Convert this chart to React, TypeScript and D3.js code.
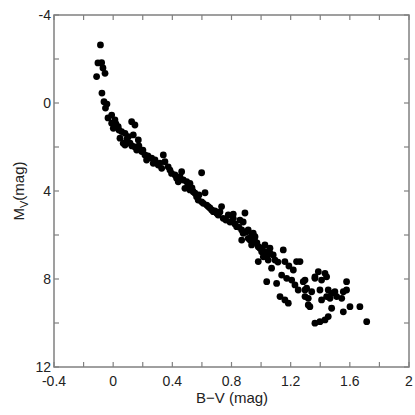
import * as d3 from 'd3';

// B-V colour index (mag) and absolute magnitude M_V (mag)
const bv = [
  -0.086, -0.103, -0.078, -0.069, -0.055, -0.112, -0.076, -0.062, -0.042, -0.052,
  -0.01, -0.035, 0.012, -0.01, 0.034, 0.001, 0.057, 0.08, 0.125, 0.147,
  0.102, 0.046, 0.068, 0.08, 0.114, 0.17, 0.136, 0.159, 0.147, 0.193,
  0.215, 0.226, 0.26, 0.271, 0.305, 0.339, 0.35, 0.372, 0.328,
  0.395, 0.429, 0.463, 0.474, 0.497, 0.44, 0.519, 0.485, 0.519, 0.541,
  0.553, 0.598, 0.621, 0.564, 0.575, 0.598, 0.609, 0.632, 0.643, 0.666,
  0.677, 0.7, 0.71, 0.733, 0.744, 0.778,
  0.812, 0.812, 0.79, 0.835, 0.857, 0.879, 0.891, 0.869, 0.913, 0.936,
  0.879, 0.913, 0.869, 0.959, 0.947, 0.959, 0.936, 0.981, 1.004, 0.992,
  1.026, 1.06,
  1.026, 1.015, 1.06, 1.082, 1.048, 1.094, 0.981, 1.15, 1.161, 1.24,
  1.071, 1.218, 1.139, 1.173, 1.038, 1.105, 1.207, 1.229, 1.251, 1.128,
  1.161, 1.184,
  1.263, 1.285, 1.297, 1.308, 1.297, 1.342, 1.319, 1.297, 1.33, 1.319,
  1.364, 1.387, 1.432, 1.443, 1.409, 1.364, 1.398, 1.409, 1.454, 1.477,
  1.499, 1.511, 1.466, 1.443, 1.545, 1.556, 1.578, 1.578, 1.477, 1.556,
  1.601, 1.668, 1.454, 1.432, 1.398, 1.364, 1.714,
  0.019, 0.039, 0.093, 0.127, 0.174, 0.201, 0.235, 0.283, 0.316, 0.384,
  0.418, 0.452, 0.506, 0.533, 0.58, 0.654, 0.688, 0.722, 0.762, 0.823,
  0.85, 0.898, 0.925, 0.972, 1.006, 1.04, 1.114, 1.188,
];
const mv = [
  -2.64, -1.82, -1.83, -1.59, -1.35, -1.2, -0.45, -0.06, 0.05, 0.23,
  0.55, 0.68, 0.77, 0.92, 1.08, 1.15, 1.3, 1.38, 0.85, 1.0,
  1.53, 1.6, 1.83, 1.91, 1.83, 1.68, 1.45, 2.14, 2.0, 2.21,
  2.36, 2.59, 2.51, 2.74, 2.82, 2.36, 2.67, 2.9, 2.97,
  3.2, 3.42, 3.12, 3.5, 3.58, 3.58, 3.65, 3.88, 3.95, 4.03,
  4.1, 3.17, 4.08, 4.26, 4.41, 4.49, 4.56, 4.64, 4.71, 4.86,
  4.94, 5.01, 5.09, 4.71, 5.24, 5.09,
  5.05, 5.24, 5.41, 5.62, 5.32, 5.41, 5.0, 5.77, 5.77, 6.0,
  5.92, 6.15, 6.23, 6.08, 5.92, 6.3, 6.45, 6.53, 6.76, 6.6,
  6.45, 6.6,
  6.76, 6.99, 6.83, 6.91, 7.14, 7.14, 7.21, 6.68, 7.21, 7.21,
  7.51, 7.59, 7.82, 7.97, 8.12, 8.2, 8.05, 8.27, 8.5, 8.8,
  8.95, 9.1,
  7.21, 8.12, 8.05, 8.42, 8.5, 8.58, 8.88, 8.8, 9.26, 9.18,
  7.9, 7.67, 7.74, 7.9, 8.05, 7.97, 8.5, 8.95, 8.5, 8.65,
  8.58, 8.8, 8.88, 8.8, 8.88, 8.58, 8.12, 8.5, 9.33, 9.49,
  9.26, 9.26, 9.71, 9.86, 9.94, 10.01, 9.94,
  0.95, 1.23, 1.64, 1.95, 1.95, 2.14, 2.41, 2.59, 2.73, 3.05,
  3.27, 3.36, 3.77, 3.86, 4.18, 4.77, 4.91, 4.95, 5.32, 5.5,
  5.64, 5.86, 6.23, 6.36, 6.59, 6.95, 7.23, 7.41,
];

const xLabels = [-0.4, 0, 0.4, 0.8, 1.2, 1.6, 2];
const xMinor = [-0.2, 0.2, 0.6, 1.0, 1.4, 1.8];
const yLabels = [-4, 0, 4, 8, 12];
const yMinor = [-2, 2, 6, 10];

export default function App() {
  const width = 415;
  const height = 415;
  const left = 54, right = 409, top = 15, bottom = 367;

  const x = d3.scaleLinear().domain([-0.4, 2]).range([left, right]);
  const y = d3.scaleLinear().domain([-4, 12]).range([top, bottom]);

  const axisColor = '#808080';
  const font = 'Liberation Sans, Arial, sans-serif';
  const tick = 5;
  const points = bv.map((b, i) => ({ b, m: mv[i] }));
  const allX = [...xLabels, ...xMinor];
  const allY = [...yLabels, ...yMinor];

  return (
    <svg
      width={width}
      height={height}
      style={{ position: 'absolute', left: 0, top: 0, background: '#fff' }}
    >
      {/* points */}
      {points.map((p, i) => (
        <circle key={i} cx={x(p.b)} cy={y(p.m)} r={3.4} fill="#000" />
      ))}

      {/* frame */}
      <rect
        x={left}
        y={top}
        width={right - left}
        height={bottom - top}
        fill="none"
        stroke={axisColor}
        strokeWidth={1.5}
      />

      {/* ticks, inward on all four sides */}
      {allX.map((v) => (
        <g key={'xt' + v} stroke={axisColor} strokeWidth={1.2}>
          <line x1={x(v)} x2={x(v)} y1={bottom} y2={bottom - tick} />
          <line x1={x(v)} x2={x(v)} y1={top} y2={top + tick} />
        </g>
      ))}
      {allY.map((v) => (
        <g key={'yt' + v} stroke={axisColor} strokeWidth={1.2}>
          <line x1={left} x2={left + tick} y1={y(v)} y2={y(v)} />
          <line x1={right} x2={right - tick} y1={y(v)} y2={y(v)} />
        </g>
      ))}

      {/* tick labels */}
      {xLabels.map((v) => (
        <text
          key={'xl' + v}
          x={x(v)}
          y={386}
          textAnchor="middle"
          fontFamily={font}
          fontSize={14}
          fill="#222"
        >
          {String(v)}
        </text>
      ))}
      {yLabels.map((v) => (
        <text
          key={'yl' + v}
          x={left - 3}
          y={y(v) + 5}
          textAnchor="end"
          fontFamily={font}
          fontSize={14}
          fill="#222"
        >
          {String(v)}
        </text>
      ))}

      {/* axis titles */}
      <text
        x={232}
        y={403}
        textAnchor="middle"
        fontFamily={font}
        fontSize={15}
        fill="#222"
      >
        B{'\u2212'}V (mag)
      </text>
      <text
        transform={`translate(24,${(top + bottom) / 2}) rotate(-90)`}
        textAnchor="middle"
        fontFamily={font}
        fontSize={15}
        fill="#222"
      >
        M<tspan fontSize={11} dy={4}>V</tspan>
        <tspan dy={-4}>(mag)</tspan>
      </text>
    </svg>
  );
}
